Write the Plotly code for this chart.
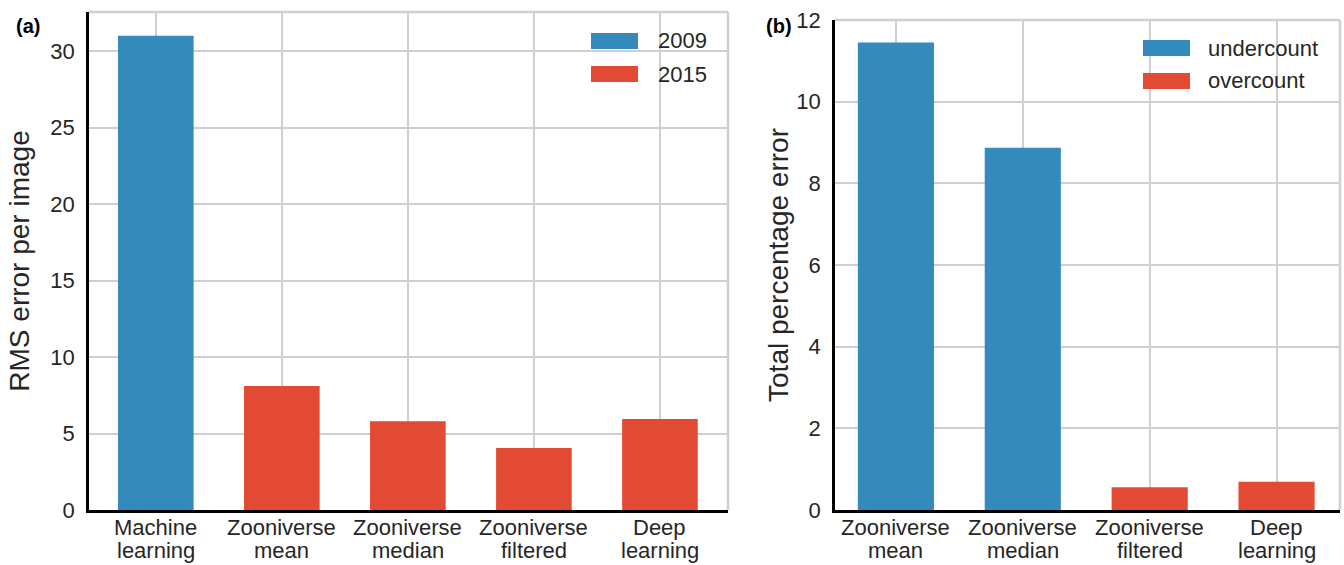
import plotly.graph_objects as go
from plotly.subplots import make_subplots

# Panel (a)
cats_a = ["Machine<br>learning", "Zooniverse<br>mean", "Zooniverse<br>median", "Zooniverse<br>filtered", "Deep<br>learning"]
cats_2009 = ["Machine<br>learning"]
vals_2009 = [31.0]
cats_2015 = ["Zooniverse<br>mean", "Zooniverse<br>median", "Zooniverse<br>filtered", "Deep<br>learning"]
vals_2015 = [8.1, 5.8, 4.05, 5.95]

# Panel (b)
cats_b = ["Zooniverse<br>mean", "Zooniverse<br>median", "Zooniverse<br>filtered", "Deep<br>learning"]
cats_under = ["Zooniverse<br>mean", "Zooniverse<br>median"]
vals_under = [11.45, 8.87]
cats_over = ["Zooniverse<br>filtered", "Deep<br>learning"]
vals_over = [0.56, 0.69]

BLUE = "#348ABD"
RED = "#E24A33"
FONT = "Liberation Sans"
TXT = "#262626"
GRID = "#cfcfcf"

fig = make_subplots(rows=1, cols=2)

fig.add_trace(go.Bar(x=cats_2009, y=vals_2009, name="2009", marker_color=BLUE,
                     marker_line_width=0, width=0.6, showlegend=False), 1, 1)
fig.add_trace(go.Bar(x=cats_2015, y=vals_2015, name="2015", marker_color=RED,
                     marker_line_width=0, width=0.6, showlegend=False), 1, 1)
fig.add_trace(go.Bar(x=cats_under, y=vals_under, name="undercount", marker_color=BLUE,
                     marker_line_width=0, width=0.6, showlegend=False), 1, 2)
fig.add_trace(go.Bar(x=cats_over, y=vals_over, name="overcount", marker_color=RED,
                     marker_line_width=0, width=0.6, showlegend=False), 1, 2)

W, H = 1344, 565
def px_x(p): return p / W
def px_y(p): return 1 - p / H

common_x = dict(showgrid=True, gridcolor=GRID, gridwidth=1.5, automargin=False,
                showline=True, linecolor="black", linewidth=2.5, ticks="",
                showticklabels=False)
common_y = dict(showgrid=True, gridcolor=GRID, gridwidth=1.5, zeroline=False, automargin=False,
                showline=True, linecolor="black", linewidth=2.5, ticks="",
                tickfont=dict(size=22), ticklabelstandoff=7)

fig.update_layout(
    width=W, height=H, barmode="overlay",
    margin=dict(l=0, r=0, t=0, b=0),
    paper_bgcolor="white", plot_bgcolor="white",
    font=dict(family=FONT, color=TXT, size=22),
    xaxis=dict(domain=[px_x(89), px_x(728)], categoryorder="array", categoryarray=cats_a,
               range=[-0.53, 4.54], **common_x),
    yaxis=dict(domain=[px_y(510), px_y(12)], range=[0, 32.55], dtick=5,
               title=dict(text="RMS error per image", font=dict(size=28), standoff=13), **common_y),
    xaxis2=dict(domain=[px_x(835), px_x(1340)], categoryorder="array", categoryarray=cats_b,
                range=[-0.48, 3.5], **common_x),
    yaxis2=dict(domain=[px_y(510), px_y(20)], range=[0, 12], dtick=2,
                title=dict(text="Total percentage error", font=dict(size=28), standoff=0), **common_y),
)

shapes = []
for xr, yr in (("x domain", "y domain"), ("x2 domain", "y2 domain")):
    shapes.append(dict(type="line", xref=xr, yref=yr, x0=0, x1=1, y0=1, y1=1,
                       line=dict(color=GRID, width=2.5)))
    shapes.append(dict(type="line", xref=xr, yref=yr, x0=1, x1=1, y0=0, y1=1,
                       line=dict(color=GRID, width=2.5)))

annotations = [
    dict(text="<b>(a)</b>", xref="paper", yref="paper", x=px_x(14), y=px_y(26),
         xanchor="left", yanchor="middle", showarrow=False, font=dict(size=20, color="black")),
    dict(text="<b>(b)</b>", xref="paper", yref="paper", x=px_x(764), y=px_y(26),
         xanchor="left", yanchor="middle", showarrow=False, font=dict(size=20, color="black")),
]

# category tick labels (two lines, tighter spacing than plotly's default)
for xref, cats in (("x", cats_a), ("x2", cats_b)):
    for c in cats:
        for i, line in enumerate(c.split("<br>")):
            annotations.append(dict(text=line, xref=xref, yref="paper", x=c,
                                    y=px_y(527 + 23 * i), xanchor="center", yanchor="middle",
                                    showarrow=False, font=dict(size=22, color=TXT)))

# custom legends
legend_items = [
    (591, 638, 41, BLUE, "2009", 656),
    (591, 638, 74, RED, "2015", 656),
    (1143, 1190, 48, BLUE, "undercount", 1206),
    (1143, 1190, 81, RED, "overcount", 1206),
]
for x0, x1, yc, col, label, tx in legend_items:
    shapes.append(dict(type="rect", xref="paper", yref="paper",
                       x0=px_x(x0), x1=px_x(x1), y0=px_y(yc - 8), y1=px_y(yc + 8),
                       fillcolor=col, line=dict(width=0)))
    annotations.append(dict(text=label, xref="paper", yref="paper", x=px_x(tx), y=px_y(yc),
                            xanchor="left", yanchor="middle", showarrow=False,
                            font=dict(size=22, color=TXT)))

fig.update_layout(shapes=shapes, annotations=annotations)
fig.write_html("out.html")
